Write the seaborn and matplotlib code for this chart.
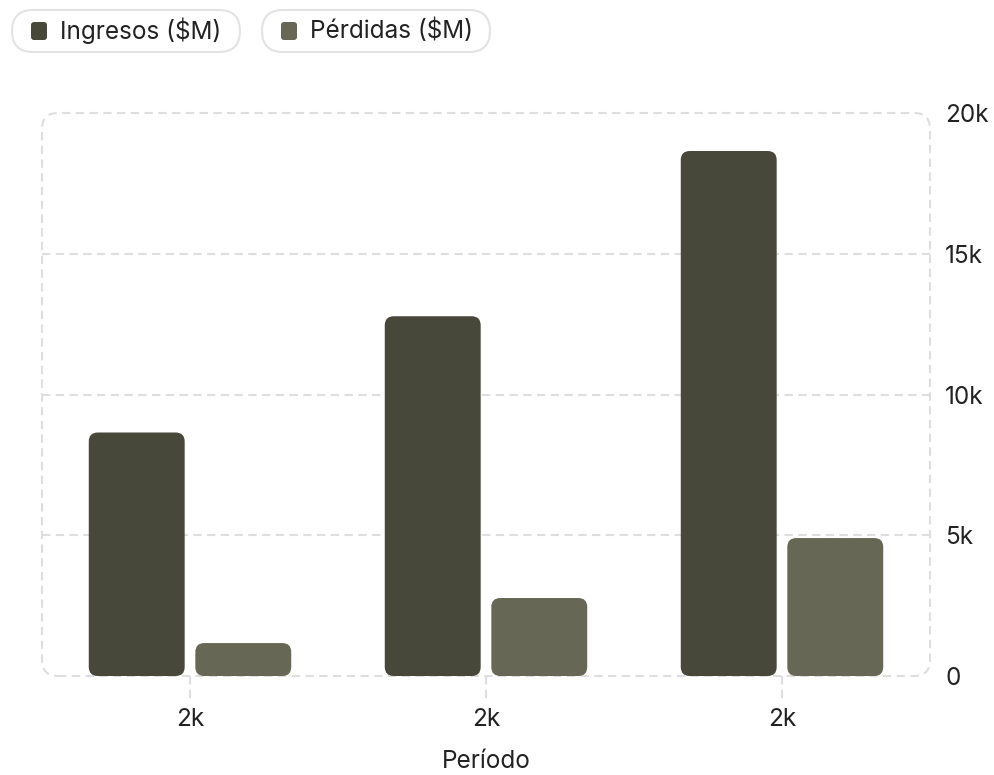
import pandas as pd
import matplotlib
import matplotlib.pyplot as plt
import seaborn as sns
from matplotlib.patches import FancyBboxPatch
from matplotlib.transforms import IdentityTransform, blended_transform_factory

# data
periodos = ['2022', '2023', '2024']
tick_labels = ['2k', '2k', '2k']
ingresos = [8650, 12780, 18650]
perdidas = [1170, 2770, 4900]
series = ['Ingresos ($M)', 'Pérdidas ($M)']
colores = ['#47473a', '#666755']
y_ticks = [0, 5000, 10000, 15000, 20000]
y_tick_labels = ['0', '5k', '10k', '15k', '20k']

df = pd.DataFrame({
    'periodo': periodos * 2,
    'valor': ingresos + perdidas,
    'serie': [series[0]] * 3 + [series[1]] * 3,
})

sns.set_theme(style='white')
plt.rcParams['font.family'] = ['Inter', 'DejaVu Sans']
txt = '#222222'
grid_c = '#dedede'
fs = 17.5

W, H = 995, 775
fig = plt.figure(figsize=(W / 100, H / 100), dpi=100, facecolor='white')
ax = fig.add_axes([42 / W, 99 / H, 888 / W, 563 / H])

sns.barplot(data=df, x='periodo', y='valor', hue='serie', palette=colores,
            width=0.72, gap=0.1, legend=False, ax=ax, saturation=1)

ax.set_xlim(-0.5, 2.5)
ax.set_ylim(0, 20000)
for s in ax.spines.values():
    s.set_visible(False)

# rounded bars
x_per_px = 3 / 888
y_per_px = 20000 / 563
r = 9 * x_per_px
for p in list(ax.patches):
    x, y = p.get_x(), p.get_y()
    w, h = p.get_width(), p.get_height()
    fc = p.get_facecolor()
    p.remove()
    ax.add_patch(FancyBboxPatch((x, y), w, h,
                                boxstyle=f'round,pad=0,rounding_size={r}',
                                mutation_aspect=y_per_px / x_per_px,
                                fc=fc, ec='none', zorder=3))

# grid lines
dash = (0, (4, 2.6))
for v in y_ticks[1:-1]:
    ax.axhline(v, color=grid_c, lw=1.5, ls=dash, zorder=1)

# rounded dashed frame
ax.add_patch(FancyBboxPatch((0, 0), 1, 1, transform=ax.transAxes,
                            boxstyle=f'round,pad=0,rounding_size={16 / 888}',
                            mutation_aspect=888 / 563, fill=False,
                            ec=grid_c, lw=1.5, ls=dash, clip_on=False, zorder=1))

# dashed x ticks
tr = blended_transform_factory(ax.transData, ax.transAxes)
for i in range(len(periodos)):
    ax.plot([i, i], [0, -24 / 563], transform=tr, color=grid_c, lw=1.5,
            ls=dash, clip_on=False, zorder=1)

ax.set_xticks(range(len(periodos)))
ax.set_xticklabels(tick_labels)
ax.yaxis.tick_right()
ax.set_yticks(y_ticks)
ax.set_yticklabels(y_tick_labels)
ax.tick_params(axis='x', length=0, pad=23, labelsize=fs, labelcolor=txt)
ax.tick_params(axis='y', length=0, pad=11, labelsize=fs, labelcolor=txt)
ax.set_xlabel('Período', fontsize=fs, color=txt, labelpad=14)
ax.set_ylabel('')

# legend pills
for i, (lab, col) in enumerate(zip(series, colores)):
    x0 = 12 + i * 250
    fig.patches.append(FancyBboxPatch((x0, H - 52), 228, 42,
                                      boxstyle='round,pad=0,rounding_size=21',
                                      transform=IdentityTransform(), fc='white',
                                      ec='#e3e3e3', lw=1.5, figure=fig))
    fig.patches.append(FancyBboxPatch((x0 + 19, H - 40), 16, 18,
                                      boxstyle='round,pad=0,rounding_size=3',
                                      transform=IdentityTransform(), fc=col,
                                      ec='none', figure=fig))
    fig.text(x0 + 48, H - 31, lab, transform=IdentityTransform(),
             fontsize=fs, color=txt, va='center', ha='left')

fig.savefig('out.png', dpi=100, facecolor='white')
